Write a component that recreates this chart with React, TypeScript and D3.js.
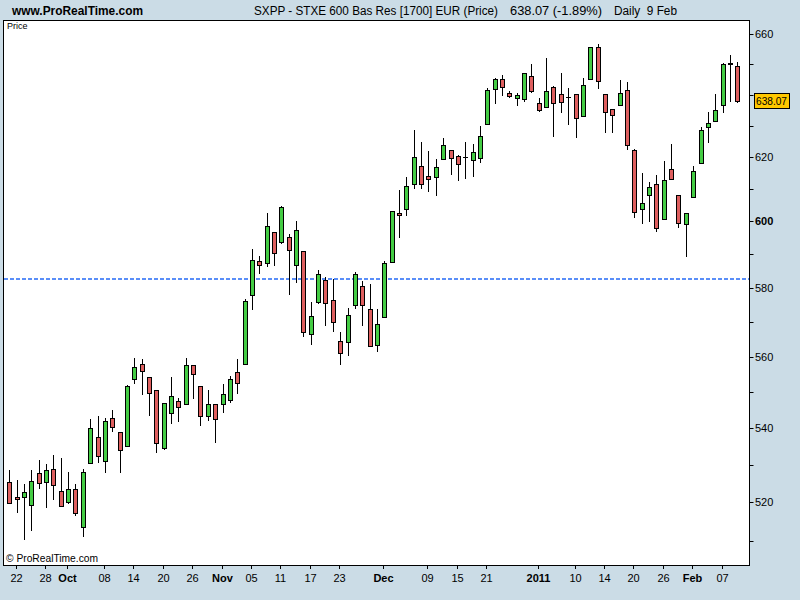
import React from 'react';
import * as d3 from 'd3';

// ---- data ----
const dates: string[] = [
  '2010-09-21','2010-09-22','2010-09-23','2010-09-24','2010-09-27','2010-09-28','2010-09-29','2010-09-30',
  '2010-10-01','2010-10-04','2010-10-05','2010-10-06','2010-10-07','2010-10-08','2010-10-11','2010-10-12','2010-10-13','2010-10-14','2010-10-15','2010-10-18','2010-10-19','2010-10-20','2010-10-21','2010-10-22','2010-10-25','2010-10-26','2010-10-27','2010-10-28','2010-10-29',
  '2010-11-01','2010-11-02','2010-11-03','2010-11-04','2010-11-05','2010-11-08','2010-11-09','2010-11-10','2010-11-11','2010-11-12','2010-11-15','2010-11-16','2010-11-17','2010-11-18','2010-11-19','2010-11-22','2010-11-23','2010-11-24','2010-11-25','2010-11-26','2010-11-29','2010-11-30',
  '2010-12-01','2010-12-02','2010-12-03','2010-12-06','2010-12-07','2010-12-08','2010-12-09','2010-12-10','2010-12-13','2010-12-14','2010-12-15','2010-12-16','2010-12-17','2010-12-20','2010-12-21','2010-12-22','2010-12-23','2010-12-27','2010-12-28','2010-12-29','2010-12-30',
  '2011-01-03','2011-01-04','2011-01-05','2011-01-06','2011-01-07','2011-01-10','2011-01-11','2011-01-12','2011-01-13','2011-01-14','2011-01-17','2011-01-18','2011-01-19','2011-01-20','2011-01-21','2011-01-24','2011-01-25','2011-01-26','2011-01-27','2011-01-28','2011-01-31',
  '2011-02-01','2011-02-02','2011-02-03','2011-02-04','2011-02-07','2011-02-08','2011-02-09',
];

const opens: number[] = [
  525.4,521.4,521.4,519.3,527.8,525.4,528.9,523.0,520.2,523.5,
  513.6,530.5,537.5,531.0,542.8,539.0,535.1,553.7,558.1,554.3,
  550.6,534.7,544.2,547.5,546.7,557.6,551.7,543.5,546.7,546.7,
  547.8,555.6,558.1,577.9,588.0,587.5,596.7,593.7,595.2,586.8,
  591.0,566.7,575.8,582.3,576.4,564.5,564.4,575.0,580.5,573.9,
  563.4,571.5,587.6,602.5,603.7,611.5,617.1,614.0,613.6,619.3,
  622.1,620.3,620.0,619.0,619.6,630.4,641.7,645.0,640.4,638.8,
  638.5,646.0,637.2,635.9,642.4,640.1,639.2,640.1,633.0,645.0,
  655.7,640.1,635.2,636.5,641.4,622.1,603.9,608.0,611.5,600.7,
  616.1,608.0,599.2,607.4,618.0,629.5,631.4,636.5,650.0,649.3,
];
const highs: number[] = [
  528.7,526.0,524.9,528.7,531.4,530.3,532.7,531.9,528.2,524.9,
  529.0,542.6,543.4,542.8,545.1,539.0,552.1,559.7,559.4,554.3,
  550.6,547.0,554.3,548.4,559.6,557.6,551.7,550.6,546.7,552.4,
  554.6,559.4,576.9,591.6,589.6,602.6,596.7,604.7,596.2,600.2,
  591.0,575.9,585.4,583.2,582.7,567.2,574.2,584.8,582.1,581.2,
  573.9,588.1,603.1,609.7,613.7,628.6,624.8,621.9,619.4,626.0,
  622.1,620.6,624.7,624.1,629.9,642.1,645.4,646.4,641.1,640.4,
  647.0,650.1,638.8,652.1,642.8,647.1,642.1,640.1,645.4,655.7,
  656.7,640.1,635.2,644.7,644.2,622.5,614.9,612.1,614.3,618.7,
  624.1,608.0,602.5,617.1,629.5,634.4,640.1,650.3,653.1,650.6,
];
const lows: number[] = [
  519.8,517.6,510.5,512.8,523.9,518.9,520.8,519.0,519.8,516.8,
  511.3,530.5,530.8,528.1,539.4,528.2,535.1,552.7,549.5,543.6,
  533.6,534.3,541.4,542.1,546.7,548.3,540.8,542.4,536.3,544.4,
  547.4,549.7,558.1,573.7,584.4,586.4,586.7,593.4,578.3,581.9,
  566.1,563.8,575.5,569.3,567.3,558.1,560.5,574.0,569.2,563.1,
  561.8,571.5,587.6,595.4,602.1,610.4,610.4,609.5,608.2,619.3,
  614.6,612.9,613.5,613.9,618.5,630.4,637.4,639.8,639.2,636.5,
  638.1,640.8,634.6,635.9,626.8,634.3,630.6,626.5,633.0,645.0,
  642.1,627.9,627.9,636.5,622.6,601.4,599.5,600.2,597.2,600.7,
  613.0,598.2,589.6,607.4,618.0,624.7,631.4,634.3,637.9,637.5,
];
const closes: number[] = [
  519.8,520.9,522.7,525.6,525.1,528.6,524.6,519.0,523.5,517.3,
  528.1,540.1,532.4,541.9,540.3,534.0,551.7,557.0,555.9,549.8,
  535.9,547.0,548.9,545.9,557.6,555.1,543.5,546.7,542.5,549.5,
  553.7,552.6,576.1,588.3,586.8,598.5,590.4,604.3,591.3,597.3,
  567.1,571.8,584.1,575.5,570.0,561.0,572.1,584.1,575.0,563.1,
  569.4,587.4,603.1,601.9,610.8,620.0,611.5,613.0,616.8,623.7,
  619.6,617.7,620.0,621.5,626.6,641.4,645.0,642.4,639.5,639.8,
  647.0,641.1,634.9,641.1,637.2,637.5,639.2,632.3,643.1,655.7,
  644.4,634.3,633.3,640.4,623.7,602.8,605.7,610.5,598.0,612.7,
  613.0,599.5,602.5,615.5,628.5,630.7,634.9,650.0,650.4,638.07,
];

// 640 is hidden behind the last-price box in the reference, so only its tick is drawn
const yLabelTicks: number[] = [520, 540, 560, 580, 600, 620, 660];
const yTickOnly: number[] = [510, 530, 550, 570, 590, 610, 630, 640, 650];
const yBoldTick = 600;
const xTickDates: string[] = ['2010-09-22','2010-09-28','2010-10-01','2010-10-08','2010-10-14','2010-10-20','2010-10-26','2010-11-01','2010-11-05','2010-11-11','2010-11-17','2010-11-23','2010-12-01','2010-12-09','2010-12-15','2010-12-21','2011-01-03','2011-01-10','2011-01-14','2011-01-20','2011-01-26','2011-02-01','2011-02-07'];
const xTickLabels: string[] = ['22','28','Oct','08','14','20','26','Nov','05','11','17','23','Dec','09','15','21','2011','10','14','20','26','Feb','07'];
const xTickBold: boolean[] = [false,false,true,false,false,false,false,true,false,false,false,false,true,false,false,false,true,false,false,false,false,true,false];
const yDomain: [number, number] = [503.7, 664.8];
const refLevel = 582.7;
const lastPrice = 638.07;
const titleText = 'SXPP - STXE 600 Bas Res [1700] EUR (Price)';
const priceText = '638.07 (-1.89%)';
const periodText = 'Daily  9 Feb';

// ---- layout ----
const W = 800, H = 600;
const L = 3, R = 749, T = 20, B = 565;
const FONT = '"Liberation Sans", Arial, sans-serif';
const BG = '#cbdce6';
const GREEN = '#44cc44';
const RED = '#de5f5f';

export default function App() {
  const x = d3.scaleBand<string>().domain(dates).range([5.6, 741]).padding(0);
  const y = d3.scaleLog().domain(yDomain).range([B, T]);
  const cx = (d: string) => Math.round((x(d) as number) + x.bandwidth() / 2);
  const py = (v: number) => Math.round(y(v));

  const candles = dates.map((d, i) => {
    const o = opens[i], h = highs[i], l = lows[i], c = closes[i];
    const X = cx(d);
    const top = py(Math.max(o, c));
    const bot = py(Math.min(o, c));
    const up = c > o;
    const flat = Math.abs(c - o) < 0.05;
    return (
      <g key={d}>
        <line x1={X + 0.5} x2={X + 0.5} y1={py(h)} y2={py(l) + 1} stroke="#000" strokeWidth={1} />
        <rect
          x={X - 2 + 0.5}
          y={top + 0.5}
          width={4}
          height={Math.max(bot - top, flat ? 0.001 : 1)}
          fill={flat ? '#000' : up ? GREEN : RED}
          stroke="#000"
          strokeWidth={1}
        />
      </g>
    );
  });

  const yRef = py(refLevel);
  const yLast = py(lastPrice);

  return (
    <svg width={W} height={H} style={{ position: 'absolute', left: 0, top: 0 }} fontFamily={FONT}>
      <rect x={0} y={0} width={W} height={H} fill={BG} />
      {/* header */}
      <text x={12} y={15} fontSize={12} fontWeight="bold" textLength={131} lengthAdjust="spacingAndGlyphs">www.ProRealTime.com</text>
      <text x={254} y={15} fontSize={12} textLength={244} lengthAdjust="spacingAndGlyphs">{titleText}</text>
      <text x={510} y={15} fontSize={12} textLength={92} lengthAdjust="spacingAndGlyphs">{priceText}</text>
      <text x={614} y={15} fontSize={12} textLength={63} lengthAdjust="spacingAndGlyphs" style={{ whiteSpace: 'pre' }}>{periodText}</text>

      {/* plot frame */}
      <rect x={L + 0.5} y={T + 0.5} width={R - L} height={B - T} fill="#fff" stroke="#000" strokeWidth={1} />
      <text x={7} y={29} fontSize={9} fill="#000">Price</text>

      {/* reference dotted line */}
      <line x1={L + 1} x2={R} y1={yRef} y2={yRef} stroke="#5a8ef8" strokeWidth={2} strokeDasharray="4 2" />

      {candles}

      <text x={6} y={562} fontSize={11} textLength={92} lengthAdjust="spacingAndGlyphs">© ProRealTime.com</text>

      {/* right axis */}
      {yTickOnly.concat(yLabelTicks).map((v) => (
        <line key={'t' + v} x1={R + 0.5} x2={R + 4.5} y1={py(v) + 0.5} y2={py(v) + 0.5} stroke="#000" />
      ))}
      {yLabelTicks.map((v) => (
        <text key={'l' + v} x={755} y={py(v) + 4} fontSize={11} fontWeight={v === yBoldTick ? 'bold' : 'normal'}>{v}</text>
      ))}
      <rect x={754.5} y={yLast - 7.5} width={35} height={15} fill="#ffc800" stroke="#000" />
      <text x={756} y={yLast + 4} fontSize={11} textLength={31} lengthAdjust="spacingAndGlyphs">{lastPrice.toFixed(2)}</text>

      {/* bottom axis */}
      {xTickDates.map((d, i) => {
        const X = cx(d) - 1;
        return (
          <g key={d}>
            <line x1={X + 0.5} x2={X + 0.5} y1={B} y2={B + 4} stroke="#000" />
            <text x={X + 0.5} y={582} fontSize={11} textAnchor="middle" fontWeight={xTickBold[i] ? 'bold' : 'normal'}>{xTickLabels[i]}</text>
          </g>
        );
      })}
    </svg>
  );
}
